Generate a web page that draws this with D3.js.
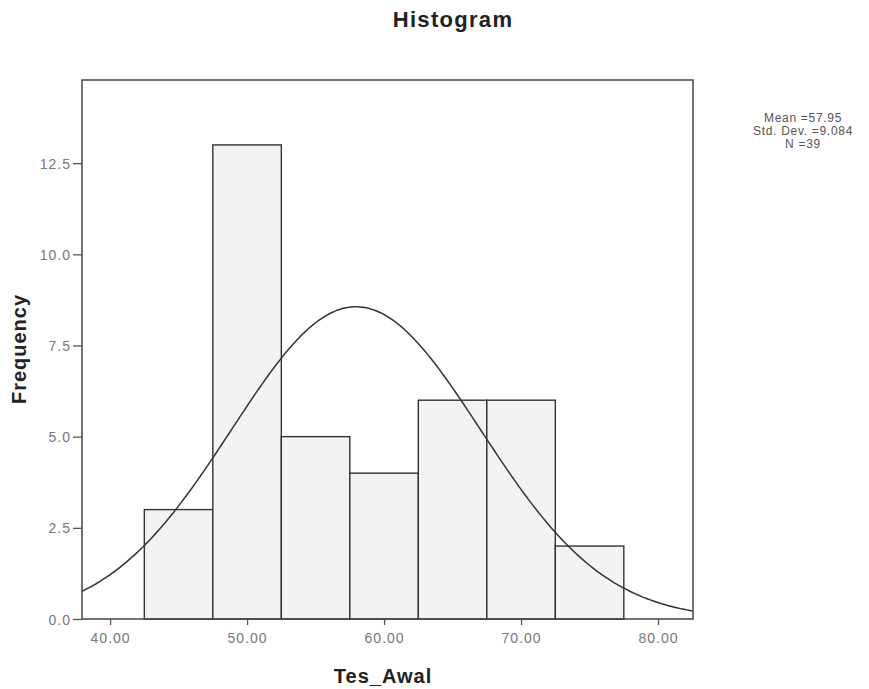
<!DOCTYPE html>
<html>
<head>
<meta charset="utf-8">
<script src="https://cdn.jsdelivr.net/npm/d3@7"></script>
<style>
  body { margin: 0; background: #fff; }
  svg { display: block; }
</style>
</head>
<body>
<svg id="hisSvg" width="869" height="689"></svg>
<script>
// bins of Tes_Awal (lower edge, upper edge) and their counts
var binLower = [42.5, 47.5, 52.5, 57.5, 62.5, 67.5, 72.5];
var binUpper = [47.5, 52.5, 57.5, 62.5, 67.5, 72.5, 77.5];
var frequencies = [3, 13, 5, 4, 6, 6, 2];

var xTicks = [40, 50, 60, 70, 80];
var yTicks = [0, 2.5, 5, 7.5, 10, 12.5];

// fitted normal curve parameters (as printed on the chart)
var mean = 57.95;
var stdDev = 9.084;
var nCount = 39;
var statLines = ["Mean =57.95", "Std. Dev. =9.084", "N =39"];

var svg = d3.select("#hisSvg");
var margin = { top: 80, right: 176, bottom: 70, left: 82 };
var width = +svg.attr("width") - margin.left - margin.right;
var height = +svg.attr("height") - margin.top - margin.bottom;

var x = d3.scaleLinear().domain([37.95, 82.55]).range([0, width]);
var y = d3.scaleLinear().domain([0, 14.78]).range([height, 0]);

var g = svg
  .append("g")
  .attr("transform", "translate(" + margin.left + "," + margin.top + ")");

var bins = frequencies.map(function (f, i) {
  return { x0: binLower[i], x1: binUpper[i], count: f };
});

// bars
g.append("g")
  .selectAll("rect")
  .data(bins)
  .enter()
  .append("rect")
  .attr("x", function (d) { return x(d.x0); })
  .attr("y", function (d) { return y(d.count); })
  .attr("width", function (d) { return x(d.x1) - x(d.x0); })
  .attr("height", function (d) { return height - y(d.count); })
  .attr("fill", "#f3f3f3")
  .attr("stroke", "#333")
  .attr("stroke-width", 1.4);

// normal curve scaled to counts
var binWidth = binUpper[0] - binLower[0];
function normalCount(v) {
  var z = (v - mean) / stdDev;
  return nCount * binWidth * Math.exp(-0.5 * z * z) / (stdDev * Math.sqrt(2 * Math.PI));
}
var curvePts = d3.range(0, 201).map(function (i) {
  var v = x.domain()[0] + (x.domain()[1] - x.domain()[0]) * i / 200;
  return [v, normalCount(v)];
});
g.append("path")
  .datum(curvePts)
  .attr("fill", "none")
  .attr("stroke", "#333")
  .attr("stroke-width", 1.5)
  .attr("d", d3.line()
    .x(function (d) { return x(d[0]); })
    .y(function (d) { return y(d[1]); })
    .curve(d3.curveBasis));

// frame
g.append("rect")
  .attr("width", width)
  .attr("height", height)
  .attr("fill", "none")
  .attr("stroke", "#444")
  .attr("stroke-width", 1.5);

// axes
var xAxis = g
  .append("g")
  .attr("transform", "translate(0," + height + ")")
  .call(d3.axisBottom(x).tickValues(xTicks).tickSize(6).tickSizeOuter(0)
    .tickFormat(d3.format(".2f")));
var yAxis = g
  .append("g")
  .call(d3.axisLeft(y).tickValues(yTicks).tickSize(9).tickSizeOuter(0)
    .tickFormat(d3.format(".1f")));

[xAxis, yAxis].forEach(function (ax) {
  ax.select(".domain").remove();
  ax.selectAll("line").attr("stroke", "#555").attr("stroke-width", 1.3);
  ax.selectAll("text")
    .attr("fill", "#777")
    .attr("font-family", "Liberation Sans, Arial, sans-serif")
    .attr("font-size", "14px")
    .attr("letter-spacing", "1px");
});
xAxis.selectAll("text").attr("dy", "1.05em");
yAxis.selectAll("text").attr("x", -11).attr("dy", "0.36em");

// titles
svg.append("text")
  .attr("x", 453)
  .attr("y", 27)
  .attr("text-anchor", "middle")
  .attr("font-family", "Liberation Sans, Arial, sans-serif")
  .attr("font-weight", "bold")
  .attr("font-size", "22px")
  .attr("letter-spacing", "1.3px")
  .attr("fill", "#222")
  .text("Histogram");

svg.append("text")
  .attr("x", 383)
  .attr("y", 683)
  .attr("text-anchor", "middle")
  .attr("font-family", "Liberation Sans, Arial, sans-serif")
  .attr("font-weight", "bold")
  .attr("font-size", "20px")
  .attr("letter-spacing", "1px")
  .attr("fill", "#222")
  .text("Tes_Awal");

svg.append("text")
  .attr("transform", "translate(26,349) rotate(-90)")
  .attr("text-anchor", "middle")
  .attr("font-family", "Liberation Sans, Arial, sans-serif")
  .attr("font-weight", "bold")
  .attr("font-size", "20px")
  .attr("letter-spacing", "1px")
  .attr("fill", "#222")
  .text("Frequency");

// stats box
svg.append("g")
  .selectAll("text")
  .data(statLines)
  .enter()
  .append("text")
  .attr("x", 803)
  .attr("y", function (d, i) { return 122 + i * 13; })
  .attr("text-anchor", "middle")
  .attr("font-family", "Liberation Sans, Arial, sans-serif")
  .attr("font-size", "12px")
  .attr("letter-spacing", "0.7px")
  .attr("fill", "#555")
  .text(function (d) { return d; });
</script>
</body>
</html>
